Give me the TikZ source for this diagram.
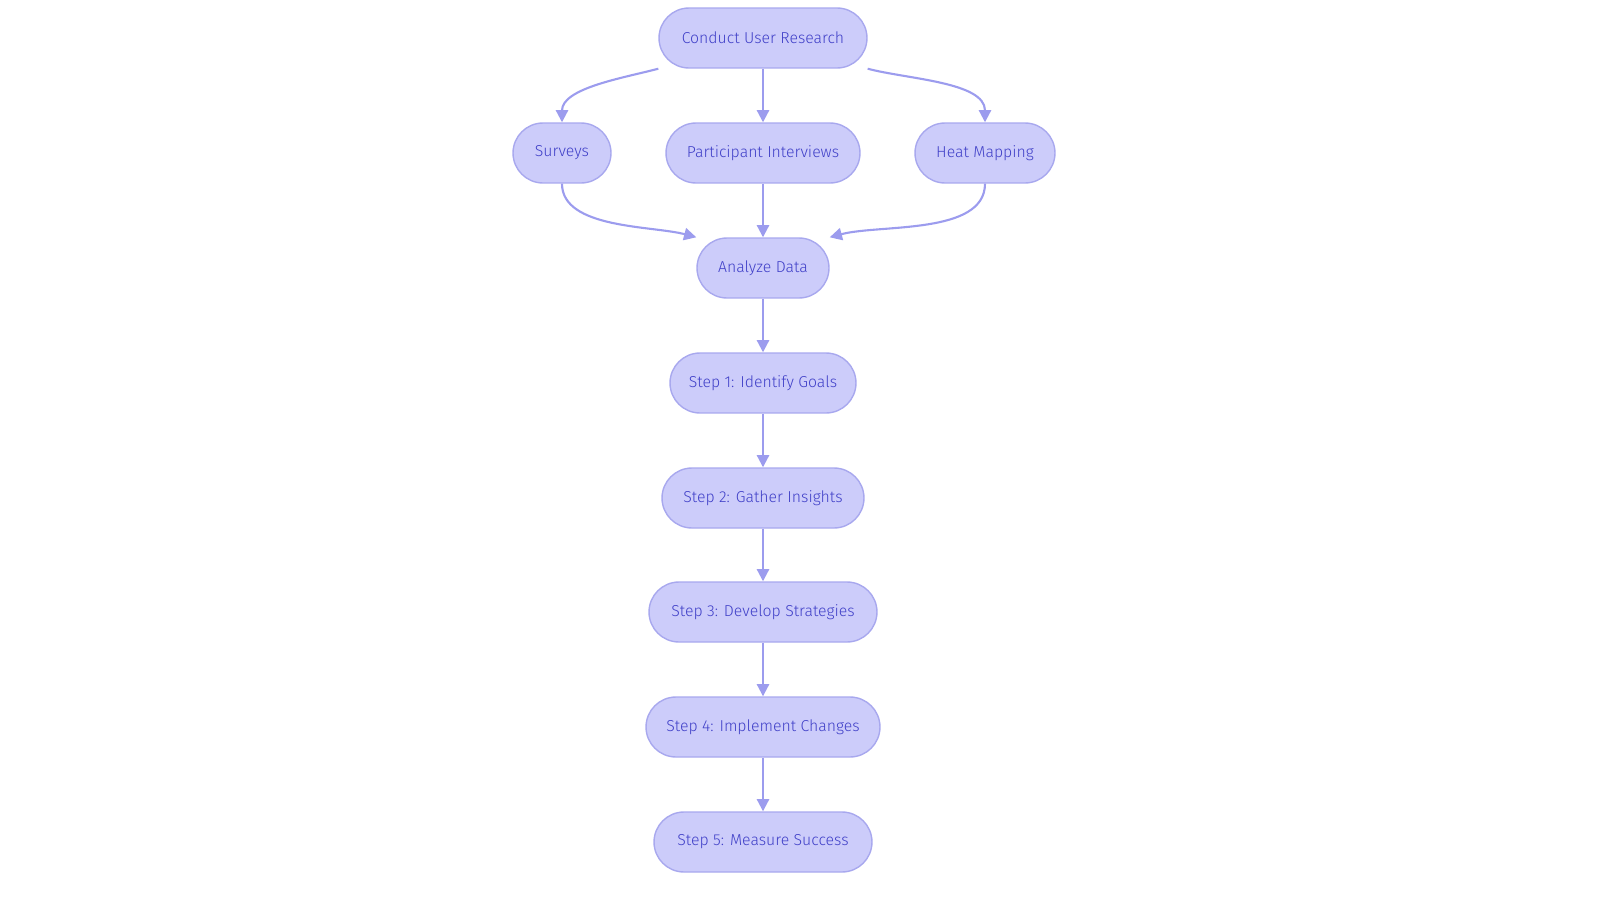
\documentclass[tikz,border=0pt]{standalone}
\usepackage{fontspec}
\setmainfont{Fira Sans Light}
\usetikzlibrary{arrows.meta}
\definecolor{boxfill}{HTML}{CCCCFA}
\definecolor{boxline}{HTML}{A8A8EE}
\definecolor{boxtext}{HTML}{4040C8}
\definecolor{linkline}{HTML}{9C9CEE}
\begin{document}
\begin{tikzpicture}[x=0.02cm,y=-0.02cm,
    stage/.style={draw=boxline, fill=boxfill, rounded corners=0.6cm, minimum height=1.2cm,
      text=boxtext, font=\fontsize{9}{11}\selectfont, inner sep=0pt, line width=0.8pt},
    link/.style={draw=linkline, line width=1.2pt, -{Triangle[length=7pt,width=7pt]}}]
        % Frame
        \useasboundingbox (0,0) rectangle (1600,903);

        % Research methods
        \node[stage, minimum width=4.16cm] (research) at (763,38) {Conduct User Research};
        \node[stage, minimum width=1.96cm] (surveys) at (562,153) {Surveys};
        \node[stage, minimum width=3.88cm] (interviews) at (763,153) {Participant Interviews};
        \node[stage, minimum width=2.8cm] (heatmap) at (985,153) {Heat Mapping};
        \node[stage, minimum width=2.64cm] (analyze) at (763,268) {Analyze Data};

        % Steps
        \node[stage, minimum width=3.72cm] (step1) at (763,383) {Step 1: Identify Goals};
        \node[stage, minimum width=4.04cm] (step2) at (763,498) {Step 2: Gather Insights};
        \node[stage, minimum width=4.56cm] (step3) at (763,612) {Step 3: Develop Strategies};
        \node[stage, minimum width=4.68cm] (step4) at (763,727) {Step 4: Implement Changes};
        \node[stage, minimum width=4.36cm] (step5) at (763,842) {Step 5: Measure Success};

        % Links
        \draw[link] (research.south west) to[out=195, in=90, looseness=0.8] (surveys.north);
        \draw[link] (research) -- (interviews);
        \draw[link] (research.south east) to[out=-15, in=90, looseness=0.8] (heatmap.north);
        \draw[link] (surveys.south) to[out=-90, in=165, looseness=0.8] (analyze.north west);
        \draw[link] (interviews) -- (analyze);
        \draw[link] (heatmap.south) to[out=-90, in=15, looseness=0.8] (analyze.north east);
        \draw[link] (analyze) -- (step1);
        \draw[link] (step1) -- (step2);
        \draw[link] (step2) -- (step3);
        \draw[link] (step3) -- (step4);
        \draw[link] (step4) -- (step5);
\end{tikzpicture}
\end{document}
